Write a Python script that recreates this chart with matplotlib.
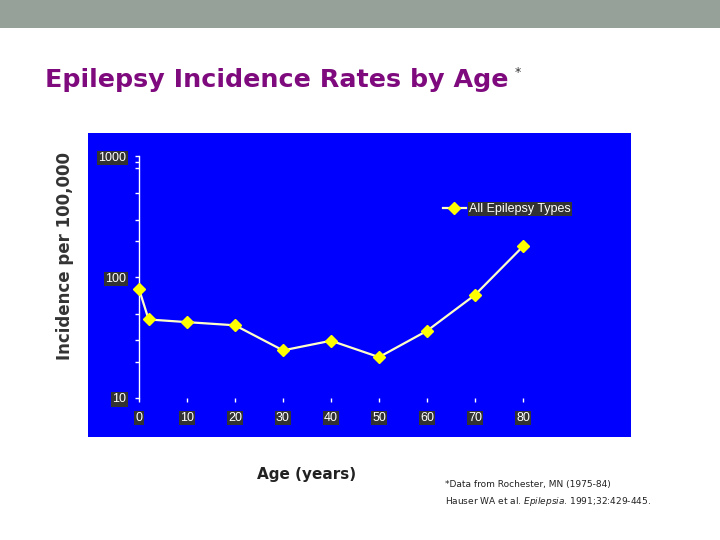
import matplotlib.pyplot as plt
from matplotlib.patches import Rectangle
from matplotlib.ticker import FixedLocator, NullFormatter

# данные: заболеваемость эпилепсией на 100 000 по возрасту
ages = [0, 2, 10, 20, 30, 40, 50, 60, 70, 80]
incidence = [80, 44.7, 42.5, 40, 24.8, 29.8, 21.8, 36, 71.4, 180]
x_ticks = [0, 10, 20, 30, 40, 50, 60, 70, 80]
y_ticks = [10, 100, 1000]
y_minor = [20, 30, 50, 200, 300, 500, 800, 900]
series_name = 'All Epilepsy Types'

fig = plt.figure(figsize=(7.2, 5.4), dpi=100)
fig.patch.set_facecolor('white')

# серая полоса сверху слайда
fig.patches.append(Rectangle((0, 1 - 28 / 540), 1, 28 / 540, transform=fig.transFigure,
                             facecolor='#95A199', edgecolor='none', zorder=0))

# синяя подложка графика
bg = fig.add_axes([88 / 720, (540 - 437) / 540, 543 / 720, 304 / 540])
bg.set_facecolor('#0000FF')
bg.set_xticks([])
bg.set_yticks([])
for s in bg.spines.values():
    s.set_visible(False)

ax = fig.add_axes([139 / 720, (540 - 398) / 540, 384 / 720, 241.5 / 540])
ax.set_facecolor('none')
ax.plot(ages, incidence, color='#FFFFC8', lw=1.6, marker='D', markersize=6.5,
        markerfacecolor='#FFFF00', markeredgecolor='#FFFF00', clip_on=False,
        label=series_name, zorder=5)
ax.set_yscale('log')
ax.set_xlim(0, 80)
ax.set_ylim(10, 1000)

ax.set_xticks(x_ticks)
ax.set_yticks(y_ticks)
ax.set_yticklabels([str(v) for v in y_ticks])
ax.yaxis.set_minor_locator(FixedLocator(y_minor))
ax.yaxis.set_minor_formatter(NullFormatter())

for s in ['top', 'right', 'bottom']:
    ax.spines[s].set_visible(False)
ax.spines['left'].set_color('white')
ax.spines['left'].set_linewidth(1)

ax.tick_params(axis='both', which='both', colors='white', direction='out', length=3, width=1)
ax.tick_params(axis='x', pad=7, labelsize=9)
ax.tick_params(axis='y', pad=6, labelsize=9)
for lbl in ax.get_xticklabels() + ax.get_yticklabels():
    lbl.set_family(['Liberation Sans', 'DejaVu Sans'])
    lbl.set_bbox(dict(facecolor='#333333', edgecolor='none', pad=0.8))

leg = ax.legend(loc='center left', bbox_to_anchor=(437 / 720, (540 - 209) / 540),
                bbox_transform=fig.transFigure, frameon=False, borderpad=0,
                handlelength=1.8, handletextpad=0.25,
                prop={'family': ['Liberation Sans', 'DejaVu Sans'], 'size': 9})
for t in leg.get_texts():
    t.set_color('white')
    t.set_bbox(dict(facecolor='#333333', edgecolor='none', pad=0.8))

# заголовок
fig.text(45 / 720, (540 - 87) / 540, 'Epilepsy Incidence Rates by Age', fontsize=18.3,
         fontweight='bold', color='#7E0A7E', family='DejaVu Sans', va='baseline')
fig.text(515 / 720, (540 - 76) / 540, '*', fontsize=9, color='#333333', va='baseline')

# подписи осей
fig.text(65 / 720, (540 - 256) / 540, 'Incidence per 100,000', rotation=90, fontsize=12,
         fontweight='bold', color='#333333', ha='center', va='center')
fig.text(307 / 720, (540 - 475) / 540, 'Age (years)', fontsize=11, fontweight='bold',
         color='#222222', ha='center', va='center')

# сноска
fig.text(445 / 720, (540 - 485) / 540, '*Data from Rochester, MN (1975-84)', fontsize=6.5,
         color='#222222', va='center')
fig.text(445 / 720, (540 - 501) / 540,
         r'Hauser WA et al. $\it{Epilepsia}$. 1991;32:429-445.', fontsize=6.5,
         color='#222222', va='center')

fig.savefig('out.png', dpi=100)
